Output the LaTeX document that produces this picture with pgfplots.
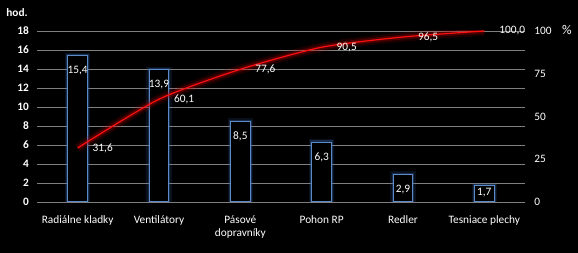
\documentclass[border=0pt]{standalone}
\usepackage{fontspec}
\setmainfont{Carlito}
\usepackage{pgfplots}
\pgfplotsset{compat=1.18}
\usepackage{pgfplotstable}

\definecolor{barblue}{HTML}{5A8AC8}
\definecolor{glowblue}{HTML}{3F6FB8}
\definecolor{gridgray}{HTML}{808080}
\definecolor{linered}{HTML}{FF1010}
\definecolor{glowred}{HTML}{C00000}

% hours per category, with the offset of its value label below the bar top
\pgfplotstableread{
x hod off
0 15.4 -4.5
1 13.9 -4.5
2 8.5  -4.5
3 6.3  -4.5
4 2.9  -4.5
5 1.7  1.5
}\hodiny

% cumulative share in percent
\pgfplotstableread{
x pct
0 31.6
1 60.1
2 77.6
3 90.5
4 96.5
5 100.0
}\kumul

\begin{document}
\begin{tikzpicture}
\fontsize{8.5}{10}\selectfont
\path[use as bounding box, fill=black] (0,0) rectangle (433.5pt,189.75pt);

\pgfplotsset{
  base/.style={
    at={(27.75pt,38.25pt)}, anchor=south west,
    scale only axis, width=366pt, height=128.25pt,
    xmin=-0.5, xmax=5.5,
    axis line style={draw=none},
    tick style={draw=none},
    ticklabel style={text=white, font=\fontsize{8.5}{10}\selectfont},
    /pgf/number format/assume math mode=true,
    /pgf/number format/use comma,
    /pgf/number format/fixed,
  }
}

% bars (hours)
\begin{axis}[base,
  ymin=0, ymax=18,
  ytick={0,2,...,18},
  yticklabel style={font=\bfseries\fontsize{8.5}{10}\selectfont, xshift=-3pt},
  ymajorgrids,
  grid style={gridgray, line width=0.6pt},
  xtick=data,
  xticklabels={Radiálne kladky, Ventilátory, {Pásové\\dopravníky}, Pohon RP, Redler, Tesniace plechy},
  xticklabel style={align=center, yshift=-3pt},
  ybar, bar width=14.6pt, bar shift=0pt,
]
\addplot[draw=glowblue, draw opacity=0.15, line width=4.5pt, fill=none] table[x=x, y=hod] {\hodiny};
\addplot[draw=glowblue, draw opacity=0.3, line width=2.6pt, fill=none] table[x=x, y=hod] {\hodiny};
\addplot[draw=barblue, line width=0.8pt, fill=black,
  nodes near coords,
  nodes near coords style={text=white, anchor=north, font=\fontsize{8.5}{10}\selectfont,
    /pgf/number format/use comma, /pgf/number format/fixed,
    /pgf/number format/fixed zerofill, /pgf/number format/precision=1,
    yshift=\off pt},
  visualization depends on={\thisrow{off} \as \off},
] table[x=x, y=hod] {\hodiny};
\end{axis}

% cumulative line (percent)
\begin{axis}[base,
  ymin=0, ymax=100,
  ytick={0,25,...,100},
  axis y line*=right,
  axis x line=none,
  yticklabel style={anchor=west, xshift=4pt},
]
\addplot[glowred, opacity=0.15, line width=7pt, smooth, tension=0.4] table[x=x, y=pct] {\kumul};
\addplot[glowred, opacity=0.3, line width=3.6pt, smooth, tension=0.4] table[x=x, y=pct] {\kumul};
\addplot[linered, line width=0.9pt, smooth, tension=0.4,
  nodes near coords,
  nodes near coords style={text=white, anchor=west, xshift=8pt, font=\fontsize{8.5}{10}\selectfont,
    /pgf/number format/use comma, /pgf/number format/fixed,
    /pgf/number format/fixed zerofill, /pgf/number format/precision=1},
] table[x=x, y=pct] {\kumul};
\end{axis}

\node[text=white, font=\bfseries\fontsize{8.5}{10}\selectfont] at (12.75pt,180pt) {hod.};
\node[text=white, font=\fontsize{10}{12}\selectfont] at (425.25pt,167pt) {\%};
\end{tikzpicture}
\end{document}
